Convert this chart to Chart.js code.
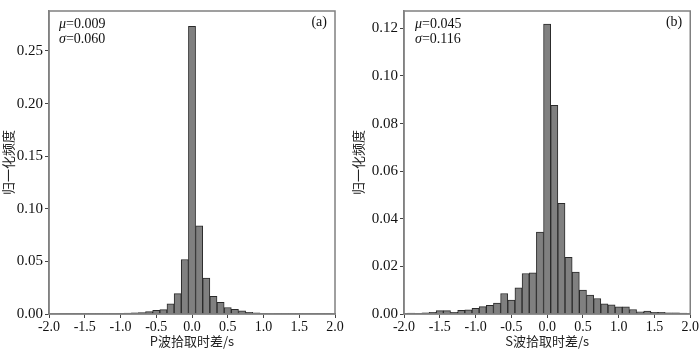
<!DOCTYPE html>
<html lang="zh">

<head>
    <meta charset="UTF-8" />
    <title>P波 / S波拾取时差分布</title>
    <script src="https://cdn.jsdelivr.net/npm/chart.js"></script>
    <style>
        body {
            margin: 0;
            background: #ffffff;
        }

        .panel {
            position: absolute;
            top: 0;
            width: 350px;
            height: 349px;
        }

        #panelA {
            left: 0;
        }

        #panelB {
            left: 350px;
        }
    </style>
</head>

<body>

    <div class="panel" id="panelA"><canvas id="chartA" width="350" height="349"></canvas></div>
    <div class="panel" id="panelB"><canvas id="chartB" width="350" height="349"></canvas></div>

    <script>
        // bin centres (s), step 0.1
        const binCentres = [
            -2.0, -1.9, -1.8, -1.7, -1.6, -1.5, -1.4, -1.3, -1.2, -1.1,
            -1.0, -0.9, -0.8, -0.7, -0.6, -0.5, -0.4, -0.3, -0.2, -0.1,
            0.0, 0.1, 0.2, 0.3, 0.4, 0.5, 0.6, 0.7, 0.8, 0.9,
            1.0, 1.1, 1.2, 1.3, 1.4, 1.5, 1.6, 1.7, 1.8, 1.9, 2.0
        ];

        // (a) P波 归一化频度
        const pFreq = [
            0.0000, 0.0000, 0.0001, 0.0001, 0.0003, 0.0002, 0.0001, 0.0002, 0.0002, 0.0003,
            0.0004, 0.0009, 0.0012, 0.0013, 0.0022, 0.0034, 0.0041, 0.0097, 0.0193, 0.0518,
            0.2735, 0.0838, 0.0342, 0.0168, 0.0110, 0.0062, 0.0044, 0.0029, 0.0016, 0.0010,
            0.0007, 0.0005, 0.0003, 0.0003, 0.0002, 0.0002, 0.0002, 0.0001, 0.0001, 0.0001, 0.0000
        ];

        // (b) S波 归一化频度
        const sFreq = [
            0.0003, 0.0004, 0.0003, 0.0005, 0.0007, 0.0014, 0.0014, 0.0007, 0.0015, 0.0017,
            0.0024, 0.0031, 0.0036, 0.0046, 0.0086, 0.0058, 0.0110, 0.0170, 0.0173, 0.0344,
            0.1218, 0.0877, 0.0465, 0.0238, 0.0176, 0.0101, 0.0080, 0.0065, 0.0043, 0.0039,
            0.0030, 0.0030, 0.0019, 0.0009, 0.0012, 0.0007, 0.0007, 0.0005, 0.0005, 0.0004, 0.0002
        ];

        const panelTags = ['(a)', '(b)'];
        const panelMu = ['0.009', '0.045'];
        const panelSigma = ['0.060', '0.116'];
        const xTitles = ['P波拾取时差/s', 'S波拾取时差/s'];
        const yTitle = '归一化频度';
        const yMax = [0.288, 0.1273];
        const yStep = [0.05, 0.02];

        const serif = '"Liberation Serif", "Times New Roman", serif';
        const cjk = '"Noto Sans CJK SC", "Liberation Serif", sans-serif';

        // frame round the plot + μ/σ and panel tag
        const frameNotes = {
            id: 'frameNotes',
            afterDraw(chart, args, opts) {
                const { ctx, chartArea: a } = chart;
                ctx.save();
                ctx.strokeStyle = '#808080';
                ctx.lineWidth = 1.5;
                ctx.strokeRect(a.left, a.top, a.right - a.left, a.bottom - a.top);

                ctx.fillStyle = '#111';
                ctx.textBaseline = 'alphabetic';
                ctx.textAlign = 'left';
                const x0 = a.left + opts.dx;
                ctx.font = 'italic 14px ' + serif;
                ctx.fillText('μ', x0, a.top + 17);
                ctx.fillText('σ', x0, a.top + 32);
                const w1 = ctx.measureText('μ').width;
                const w2 = ctx.measureText('σ').width;
                ctx.font = '14px ' + serif;
                ctx.fillText('=' + opts.mu, x0 + w1, a.top + 17);
                ctx.fillText('=' + opts.sigma, x0 + w2, a.top + 32);

                ctx.textAlign = 'right';
                ctx.fillText(opts.tag, a.right - 8, a.top + 15);
                ctx.restore();
            }
        };

        function makeChart(id, idx, values, yWidth, padRight, dx) {
            const pts = binCentres.map((x, i) => ({ x: x, y: values[i] }));
            return new Chart(document.getElementById(id), {
                type: 'bar',
                data: {
                    datasets: [{
                        data: pts,
                        backgroundColor: '#808080',
                        borderColor: '#2a2a2a',
                        borderWidth: 1,
                        barPercentage: 1.0,
                        categoryPercentage: 1.0
                    }]
                },
                options: {
                    responsive: false,
                    animation: false,
                    layout: { padding: { top: 2, right: padRight, left: 0, bottom: 0 } },
                    plugins: {
                        legend: { display: false },
                        tooltip: { enabled: false },
                        frameNotes: { tag: panelTags[idx], mu: panelMu[idx], sigma: panelSigma[idx], dx: dx }
                    },
                    scales: {
                        x: {
                            type: 'linear',
                            min: -2,
                            max: 2,
                            offset: false,
                            grid: { offset: false, drawOnChartArea: false, drawTicks: true, tickLength: 4, color: '#444' },
                            border: { display: true, color: '#808080', width: 1.5 },
                            ticks: {
                                stepSize: 0.5,
                                includeBounds: false,
                                maxRotation: 0,
                                padding: 1,
                                color: '#111',
                                font: { family: serif, size: 14 },
                                callback: v => v.toFixed(1)
                            },
                            title: {
                                display: true,
                                text: xTitles[idx],
                                color: '#222',
                                padding: { top: 0, bottom: 0 },
                                font: { family: cjk, size: 13 }
                            },
                            afterFit: s => { s.height = 35; }
                        },
                        y: {
                            min: 0,
                            max: yMax[idx],
                            grid: { drawOnChartArea: false, drawTicks: true, tickLength: 4, color: '#444' },
                            border: { display: true, color: '#808080', width: 1.5 },
                            ticks: {
                                stepSize: yStep[idx],
                                includeBounds: false,
                                padding: 2,
                                color: '#111',
                                font: { family: serif, size: 15 },
                                callback: v => v.toFixed(2)
                            },
                            title: {
                                display: true,
                                text: yTitle,
                                color: '#222',
                                padding: { top: 0, bottom: 0 },
                                font: { family: cjk, size: 13 }
                            },
                            afterFit: s => { s.width = yWidth; }
                        }
                    }
                },
                plugins: [frameNotes]
            });
        }

        makeChart('chartA', 0, pFreq, 49, 15, 10);
        makeChart('chartB', 1, sFreq, 54, 9, 11);
    </script>

</body>

</html>
